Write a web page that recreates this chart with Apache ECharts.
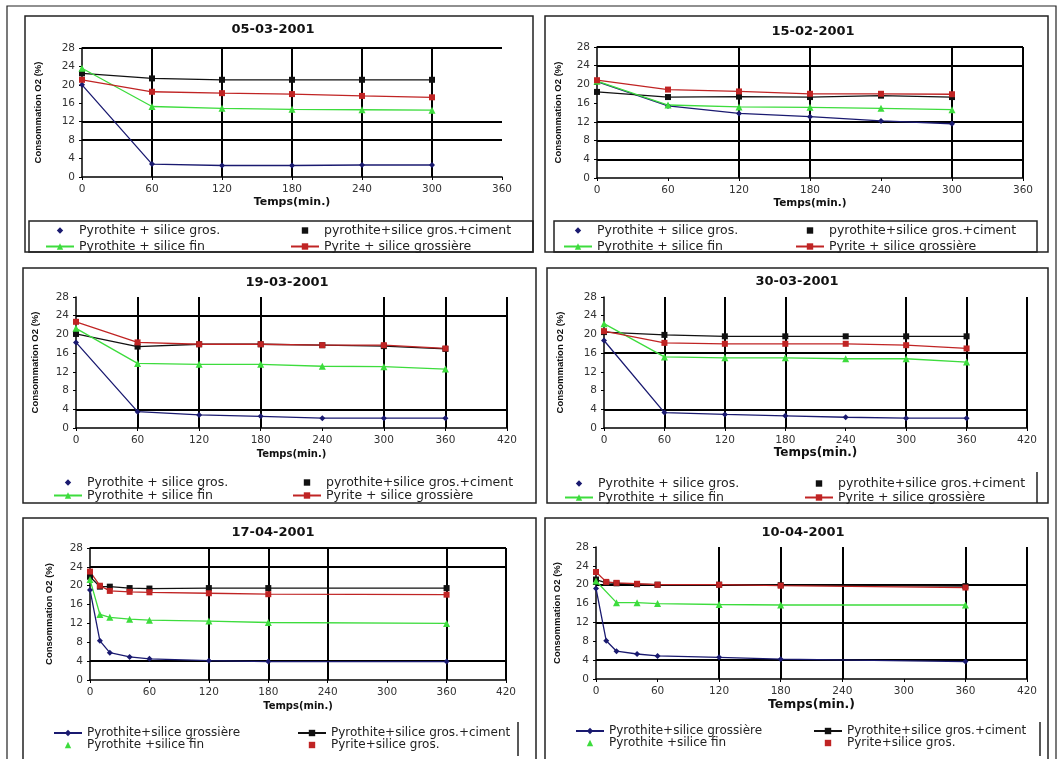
<!DOCTYPE html>
<html><head><meta charset="utf-8">
<script src="https://cdn.jsdelivr.net/npm/echarts@6/dist/echarts.min.js"></script>
<style>html,body{margin:0;padding:0;background:#fff}#c{width:1061px;height:759px}</style>
</head><body><div id="c"></div><script>
const FONT = 'DejaVu Sans, Liberation Sans, Arial, sans-serif';
const NARROW = 'Liberation Sans, Arial, Helvetica, sans-serif';

// ---------- texts ----------
const titles = ['05-03-2001', '15-02-2001', '19-03-2001', '30-03-2001', '17-04-2001', '10-04-2001'];
const namesOld = ['Pyrothite + silice gros.', 'pyrothite+silice gros.+ciment', 'Pyrothite + silice fin', 'Pyrite + silice grossière'];
const namesNew = ['Pyrothite+silice grossière', 'Pyrothite+silice gros.+ciment', 'Pyrothite +silice fin', 'Pyrite+silice gros.'];
const yTitle = 'Consommation O2 (%)';
const xTitle = 'Temps(min.)';

// ---------- data (time in min., O2 in %) ----------
const times1 = [0, 60, 120, 180, 240, 300];
const p1Gros   = [20.0, 2.8, 2.5, 2.5, 2.6, 2.6];
const p1Ciment = [22.5, 21.4, 21.1, 21.1, 21.1, 21.1];
const p1Fin    = [23.6, 15.3, 14.9, 14.7, 14.6, 14.5];
const p1Pyrite = [21.1, 18.5, 18.2, 18.0, 17.6, 17.3];

const times2 = [0, 60, 120, 180, 240, 300];
const p2Gros   = [20.6, 15.4, 13.8, 13.1, 12.2, 11.6];
const p2Ciment = [18.4, 17.3, 17.4, 17.3, 17.6, 17.3];
const p2Fin    = [20.7, 15.6, 15.2, 15.1, 14.9, 14.6];
const p2Pyrite = [20.9, 18.9, 18.5, 18.0, 18.0, 17.9];

const times3 = [0, 60, 120, 180, 240, 300, 360];
const p3Gros   = [18.3, 3.5, 2.8, 2.5, 2.1, 2.1, 2.1];
const p3Ciment = [20.1, 17.4, 17.9, 17.9, 17.7, 17.5, 16.9];
const p3Fin    = [21.3, 13.8, 13.6, 13.6, 13.2, 13.1, 12.6];
const p3Pyrite = [22.7, 18.3, 17.9, 17.9, 17.7, 17.7, 17.0];

const times4 = [0, 60, 120, 180, 240, 300, 360];
const p4Gros   = [18.7, 3.3, 2.9, 2.6, 2.3, 2.1, 2.1];
const p4Ciment = [20.5, 19.9, 19.6, 19.6, 19.6, 19.6, 19.6];
const p4Fin    = [22.3, 15.2, 15.0, 15.0, 14.8, 14.8, 14.1];
const p4Pyrite = [20.7, 18.2, 18.0, 18.0, 18.0, 17.7, 17.0];

const times5 = [0, 10, 20, 40, 60, 120, 180, 360];
const p5Gros   = [19.1, 8.3, 5.8, 4.9, 4.5, 4.1, 3.9, 3.9];
const p5Ciment = [21.9, 19.8, 19.8, 19.5, 19.4, 19.5, 19.5, 19.5];
const p5Fin    = [21.3, 13.9, 13.3, 12.9, 12.7, 12.5, 12.2, 12.0];
const p5Pyrite = [23.0, 20.0, 18.9, 18.7, 18.6, 18.4, 18.2, 18.1];

const times6 = [0, 10, 20, 40, 60, 120, 180, 360];
const p6Gros   = [19.2, 8.1, 5.9, 5.3, 4.9, 4.6, 4.2, 3.7];
const p6Ciment = [21.1, 20.4, 20.3, 20.1, 20.0, 20.0, 19.9, 19.7];
const p6Fin    = [20.8, null, 16.2, 16.2, 16.0, 15.8, 15.7, 15.7];
const p6Pyrite = [22.7, 20.6, 20.4, 20.2, 20.0, 20.0, 19.8, 19.4];

// axis ranges and the gridlines that remain visible on the scanned sheet
const xMaxes = [360, 360, 420, 420, 420, 420];
const hLines = [[28, 12, 8], [28, 24, 12, 8, 4], [24, 4], [16, 4], [28, 24, 4], [20, 12, 4]];
const vLines = [[60, 120, 180, 240, 300], [120, 180, 300, 360], [60, 120, 180, 300, 360, 420],
                [60, 120, 180, 300, 360, 420], [120, 180, 240, 360, 420], [120, 180, 240, 360, 420]];

const panels = [
  {times: times1, vals: [p1Gros, p1Ciment, p1Fin, p1Pyrite], names: namesOld, style: 'old'},
  {times: times2, vals: [p2Gros, p2Ciment, p2Fin, p2Pyrite], names: namesOld, style: 'old'},
  {times: times3, vals: [p3Gros, p3Ciment, p3Fin, p3Pyrite], names: namesOld, style: 'old'},
  {times: times4, vals: [p4Gros, p4Ciment, p4Fin, p4Pyrite], names: namesOld, style: 'old'},
  {times: times5, vals: [p5Gros, p5Ciment, p5Fin, p5Pyrite], names: namesNew, style: 'new'},
  {times: times6, vals: [p6Gros, p6Ciment, p6Fin, p6Pyrite], names: namesNew, style: 'new'}
];

// ---------- layout (pixels) ----------
const layout = [
  {grid: [82, 48, 420, 129], title: [273, 23], yGap: 39, xGap: 20, xNameSize: 11, legL: 45, legR: 290, legTop: 224, legLH: 12, legGap: 3, legFs: 12.5},
  {grid: [597, 47, 426, 131], title: [813, 25], yGap: 34, xGap: 20, xNameSize: 10.5, legL: 563, legR: 795, legTop: 224, legLH: 12, legGap: 3, legFs: 12.5},
  {grid: [76, 297, 431, 131], title: [287, 276], yGap: 36, xGap: 21, xNameSize: 10, legL: 53, legR: 292, legTop: 476, legLH: 12, legGap: 0, legFs: 12.5},
  {grid: [604, 297, 423, 131], title: [797, 275], yGap: 39, xGap: 19, xNameSize: 12, legL: 564, legR: 804, legTop: 477, legLH: 12, legGap: 1, legFs: 12.5},
  {grid: [90, 548, 416, 132], title: [273, 526], yGap: 36, xGap: 21, xNameSize: 10, legL: 53, legR: 297, legTop: 727, legLH: 11, legGap: 0, legFs: 12},
  {grid: [596, 547, 431, 132], title: [803, 526], yGap: 34, xGap: 19, xNameSize: 12.5, legL: 575, legR: 813, legTop: 725, legLH: 11, legGap: 0, legFs: 12}
];

const colors = ['#1a1a70', '#111111', '#3ddc3d', '#c02424'];
const symbols = ['diamond', 'rect', 'triangle', 'rect'];
const symSizes = [6, 6, 7, 6];

const grid = [], xAxis = [], yAxis = [], series = [], title = [], legend = [];

panels.forEach((p, i) => {
  const L = layout[i];
  grid.push({left: L.grid[0], top: L.grid[1], width: L.grid[2], height: L.grid[3], containLabel: false, outerBoundsMode: 'none'});
  title.push({text: titles[i], left: L.title[0], top: L.title[1], textAlign: 'center', padding: 0,
    textStyle: {fontFamily: FONT, fontSize: 13, fontWeight: 'bold', color: '#111'}});
  xAxis.push({type: 'value', gridIndex: i, min: 0, max: xMaxes[i], interval: 60,
    name: xTitle, nameLocation: 'middle', nameGap: L.xGap,
    nameTextStyle: {fontFamily: FONT, fontSize: L.xNameSize, fontWeight: 'bold', color: '#111'},
    axisLine: {show: true, onZero: false, lineStyle: {color: '#000', width: 1.5}},
    axisTick: {show: true, length: 3, lineStyle: {color: '#000'}},
    axisLabel: {fontFamily: FONT, fontSize: 10.5, color: '#333', margin: 7, showMinLabel: true, showMaxLabel: true},
    splitLine: {show: false}});
  yAxis.push({type: 'value', gridIndex: i, min: 0, max: 28, interval: 4,
    name: yTitle, nameLocation: 'middle', nameGap: L.yGap, nameRotate: 90,
    nameTextStyle: {fontFamily: NARROW, fontSize: 9.5, fontWeight: 'bold', color: '#111'},
    axisLine: {show: true, onZero: false, lineStyle: {color: '#000', width: 1.5}},
    axisTick: {show: true, length: 3, lineStyle: {color: '#000'}},
    axisLabel: {fontFamily: FONT, fontSize: 10.5, color: '#333', margin: 7, showMinLabel: true, showMaxLabel: true},
    splitLine: {show: false}});
  // remaining black gridlines
  series.push({type: 'line', xAxisIndex: i, yAxisIndex: i, data: [], silent: true, z: 1,
    markLine: {silent: true, symbol: 'none', animation: false, label: {show: false},
      lineStyle: {color: '#000', width: 2, type: 'solid'},
      emphasis: {disabled: true},
      data: hLines[i].map(v => ({yAxis: v})).concat(vLines[i].map(v => ({xAxis: v})))}});
  p.vals.forEach((vals, k) => {
    series.push({type: 'line', name: p.names[k], xAxisIndex: i, yAxisIndex: i, z: 5,
      data: p.times.map((t, j) => [t, vals[j]]), connectNulls: true,
      symbol: symbols[k], symbolSize: symSizes[k], showSymbol: true,
      lineStyle: {color: colors[k], width: 1.3},
      itemStyle: {color: colors[k]},
      emphasis: {disabled: true}});
  });
  const markerOnly = p.style === 'old' ? [0, 1] : [2, 3];
  const item = k => markerOnly.includes(k) ? {name: p.names[k], lineStyle: {width: 0, opacity: 0}} : {name: p.names[k]};
  const legBase = {orient: 'vertical', top: L.legTop, padding: 0, itemGap: L.legGap, itemWidth: 28, itemHeight: 8,
    selectedMode: false, textStyle: {fontFamily: FONT, fontSize: L.legFs, color: '#222', lineHeight: L.legLH}};
  legend.push(Object.assign({}, legBase, {left: L.legL, data: [item(0), item(2)]}));
  legend.push(Object.assign({}, legBase, {left: L.legR, data: [item(1), item(3)]}));
});

// panel frames of the scanned sheet
const box = (x, y, w, h, lw) => ({type: 'rect', silent: true, z: 0, shape: {x, y, width: w, height: h}, style: {fill: 'none', stroke: '#222', lineWidth: lw || 1.5}});
const vline = (x, y1, y2) => ({type: 'line', silent: true, shape: {x1: x, y1: y1, x2: x, y2: y2}, style: {stroke: '#222', lineWidth: 1.5}});
const graphic = [
  box(7, 6, 1049, 760, 1.2),
  box(25, 16, 508, 236), box(29, 221, 504, 31),
  box(545, 16, 503, 236), box(554, 221, 483, 31),
  box(23, 268, 513, 235),
  box(547, 268, 501, 235), vline(1037, 472, 503),
  box(23, 518, 513, 245), vline(518, 722, 756),
  box(545, 518, 503, 245), vline(1040, 722, 756)
];

const chart = echarts.init(document.getElementById('c'), null, {renderer: 'canvas'});
chart.setOption({
  animation: false,
  backgroundColor: '#ffffff',
  textStyle: {fontFamily: FONT},
  title, legend, grid, xAxis, yAxis, series, graphic
});
</script></body></html>
